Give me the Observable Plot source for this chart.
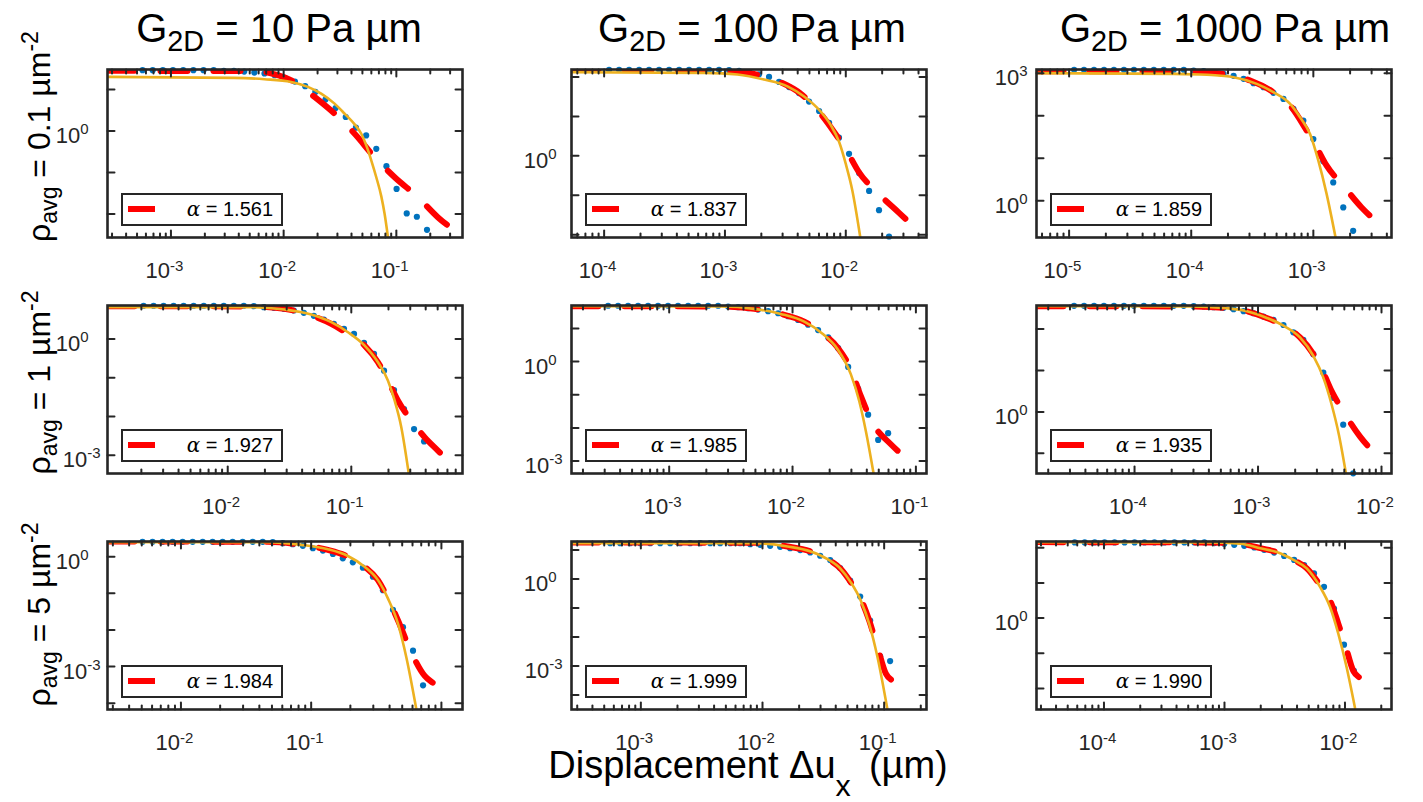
<!DOCTYPE html>
<html>
<head>
<meta charset="utf-8">
<script src="https://cdn.jsdelivr.net/npm/d3@7"></script>
<script src="https://cdn.jsdelivr.net/npm/@observablehq/plot@0.6"></script>
<style>
  html, body { margin: 0; padding: 0; background: #fff; }
  #fig { position: relative; width: 1423px; height: 802px; overflow: hidden; background: #fff;
         font-family: "Liberation Sans", Arial, Helvetica, sans-serif; color: #000; }
  .abs { position: absolute; white-space: nowrap; }
  .title { font-size: 40px; line-height: 40px; transform: translateX(-50%); }
  .rowlab { font-size: 32px; line-height: 32px; width: 400px; text-align: center; transform: rotate(-90deg); }
  .xlab { font-size: 38px; line-height: 24px; transform: translateX(-50%); }
  .sub { font-size: 0.72em; position: relative; top: 0.3em; }
  .sup { font-size: 0.72em; position: relative; top: -0.5em; }
  .subx { font-size: 0.8em; position: relative; top: 0.6em; margin-right: 0.25em; }
  .legend { position: absolute; box-sizing: border-box; border: 2.4px solid #262626; background: #fff; }
  .legend .swatch { position: absolute; left: 5px; top: 11px; width: 27px; height: 6px; background: #ff0000; }
  .legend .txt { position: absolute; right: 8px; top: 2.5px; font-size: 20px; line-height: 23px; }
  .alpha { font-family: "DejaVu Serif", "Liberation Serif", serif; font-style: italic; }
</style>
</head>
<body>
<div id="fig"></div>
<script>
// ---------------- data ----------------
// Panels are ordered row by row: r0c0, r0c1, r0c2, r1c0, ... r2c2
// All positions are log10 values of displacement (µm) and of probability density.
const columnG2D = ["10", "100", "1000"];          // G_2D in Pa µm
const rowDensity = ["0.1", "1", "5"];             // ρ_avg in µm^-2
const alphaValues = ["1.561", "1.837", "1.859", "1.927", "1.985", "1.935", "1.984", "1.999", "1.990"];

const xDomainLog = [[-3.563, -0.413], [-4.270, -1.332], [-5.267, -2.36],
                    [-2.973, -0.1], [-3.792, -0.914], [-4.794, -1.919],
                    [-2.564, 0.162], [-3.570, -0.652], [-4.56, -1.614]];
const yDomainLog = [[-2.565, 1.484], [-2.068, 2.188], [-0.864, 3.086],
                    [-3.474, 0.862], [-3.375, 1.692], [-1.486, 2.567],
                    [-4.174, 0.413], [-4.5, 1.294], [-2.6, 2.18]];
// tick labels (exponents of 10)
const xTickExps = [[-3, -2, -1], [-4, -3, -2], [-5, -4, -3],
                   [-2, -1], [-3, -2, -1], [-4, -3, -2],
                   [-2, -1], [-3, -2, -1], [-4, -3, -2]];
const yTickExps = [[0], [0], [0, 3], [-3, 0], [-3, 0], [0], [-3, 0], [-3, 0], [0]];

// blue dots: measured distribution
const dotLogX = [
  [-3.252,-3.162,-3.072,-2.982,-2.891,-2.801,-2.711,-2.621,-2.531,-2.441,-2.350,-2.260,-2.170,-2.080,-1.990,-1.900,-1.809,-1.719,-1.629,-1.539,-1.449,-1.359,-1.268,-1.178,-1.088,-0.998,-0.908,-0.818,-0.728],
  [-3.959,-3.876,-3.793,-3.710,-3.628,-3.545,-3.462,-3.379,-3.297,-3.214,-3.131,-3.049,-2.966,-2.883,-2.800,-2.718,-2.635,-2.552,-2.469,-2.387,-2.304,-2.221,-2.138,-2.056,-1.973,-1.890,-1.807,-1.725,-1.642],
  [-4.959,-4.878,-4.796,-4.714,-4.633,-4.551,-4.469,-4.388,-4.306,-4.225,-4.143,-4.061,-3.980,-3.898,-3.816,-3.735,-3.653,-3.571,-3.490,-3.408,-3.327,-3.245,-3.163,-3.082,-3.000,-2.918,-2.837,-2.755,-2.674],
  [-2.681,-2.600,-2.519,-2.438,-2.357,-2.276,-2.194,-2.113,-2.032,-1.951,-1.870,-1.789,-1.708,-1.627,-1.546,-1.465,-1.384,-1.303,-1.222,-1.141,-1.059,-0.978,-0.897,-0.816,-0.735,-0.654,-0.573,-0.492,-0.411],
  [-3.495,-3.414,-3.333,-3.252,-3.171,-3.090,-3.009,-2.928,-2.846,-2.765,-2.684,-2.603,-2.522,-2.441,-2.360,-2.279,-2.198,-2.117,-2.036,-1.955,-1.874,-1.793,-1.711,-1.630,-1.549,-1.468,-1.387,-1.306,-1.225],
  [-4.490,-4.409,-4.328,-4.248,-4.167,-4.086,-4.006,-3.925,-3.844,-3.763,-3.683,-3.602,-3.521,-3.440,-3.360,-3.279,-3.198,-3.117,-3.037,-2.956,-2.875,-2.794,-2.714,-2.633,-2.552,-2.471,-2.391,-2.310,-2.229],
  [-2.295,-2.218,-2.141,-2.064,-1.987,-1.910,-1.833,-1.757,-1.680,-1.603,-1.526,-1.449,-1.372,-1.295,-1.218,-1.141,-1.064,-0.987,-0.910,-0.833,-0.757,-0.680,-0.603,-0.526,-0.449,-0.372,-0.295,-0.218,-0.141],
  [-3.252,-3.170,-3.088,-3.005,-2.923,-2.841,-2.759,-2.677,-2.595,-2.512,-2.430,-2.348,-2.266,-2.184,-2.101,-2.019,-1.937,-1.855,-1.773,-1.690,-1.608,-1.526,-1.444,-1.362,-1.279,-1.197,-1.115,-1.033,-0.951],
  [-4.243,-4.160,-4.077,-3.995,-3.912,-3.829,-3.746,-3.664,-3.581,-3.498,-3.415,-3.333,-3.250,-3.167,-3.084,-3.002,-2.919,-2.836,-2.753,-2.671,-2.588,-2.505,-2.422,-2.339,-2.257,-2.174,-2.091,-2.008,-1.926]
];
const dotLogY = [
  [1.468,1.468,1.468,1.468,1.468,1.468,1.468,1.468,1.452,1.452,1.435,1.411,1.387,1.347,1.282,1.194,1.081,0.944,0.758,0.556,0.339,0.081,-0.105,-0.427,-0.847,-1.395,-1.984,-2.065,-2.379],
  [2.180,2.180,2.180,2.180,2.180,2.180,2.180,2.180,2.180,2.180,2.180,2.180,2.171,2.154,2.120,2.068,2.000,1.872,1.744,1.590,1.376,1.137,0.838,0.462,0.051,-0.436,-0.889,-1.376,-2.043],
  [3.080,3.080,3.080,3.080,3.080,3.080,3.080,3.080,3.080,3.080,3.080,3.080,3.063,3.047,3.024,2.984,2.937,2.866,2.764,2.670,2.537,2.395,2.159,1.885,1.452,0.926,0.431,-0.158,-0.708],
  [0.855,0.855,0.855,0.855,0.855,0.855,0.855,0.855,0.855,0.855,0.855,0.845,0.819,0.802,0.776,0.733,0.672,0.595,0.500,0.388,0.259,0.129,-0.103,-0.388,-0.819,-1.319,-1.810,-2.328,-2.647],
  [1.685,1.685,1.685,1.685,1.685,1.685,1.685,1.685,1.685,1.685,1.685,1.685,1.662,1.641,1.611,1.570,1.520,1.459,1.368,1.256,1.114,0.952,0.729,0.405,-0.162,-0.821,-1.601,-2.361,-2.158],
  [2.560,2.560,2.560,2.560,2.560,2.560,2.560,2.560,2.560,2.560,2.560,2.560,2.551,2.543,2.526,2.510,2.478,2.429,2.381,2.300,2.219,2.097,1.919,1.741,1.393,0.947,0.340,-0.308,-1.482],
  [0.405,0.405,0.405,0.405,0.405,0.405,0.405,0.405,0.405,0.405,0.405,0.405,0.405,0.394,0.367,0.339,0.294,0.229,0.165,0.073,-0.046,-0.156,-0.303,-0.550,-0.917,-1.450,-1.927,-2.569,-3.514],
  [1.237,1.237,1.237,1.237,1.237,1.237,1.237,1.237,1.237,1.237,1.237,1.237,1.237,1.237,1.203,1.180,1.145,1.111,1.065,0.997,0.916,0.802,0.653,0.378,-0.057,-0.607,-1.432,-2.669,-2.829],
  [2.153,2.153,2.153,2.153,2.153,2.153,2.153,2.153,2.153,2.153,2.153,2.153,2.153,2.153,2.134,2.115,2.086,2.057,2.010,1.943,1.866,1.770,1.656,1.512,1.273,0.890,0.268,-0.756,-1.502]
];

// red dashed: stable-distribution fit
const fitLogX = [
  [-3.563,-2.259,-2.052,-1.904,-1.726,-1.548,-1.370,-1.193,-1.015,-0.807,-0.630,-0.437],
  [-4.270,-3.172,-2.897,-2.703,-2.538,-2.372,-2.234,-2.097,-1.986,-1.890,-1.738,-1.559,-1.393],
  [-5.267,-3.980,-3.735,-3.517,-3.327,-3.190,-3.054,-2.973,-2.891,-2.755,-2.605,-2.442],
  [-2.973,-1.811,-1.541,-1.324,-1.162,-1.027,-0.892,-0.784,-0.703,-0.622,-0.514,-0.405,-0.297,-0.203],
  [-3.792,-2.581,-2.311,-2.095,-1.905,-1.770,-1.635,-1.527,-1.446,-1.351,-1.203,-1.041],
  [-4.794,-3.548,-3.279,-3.090,-2.929,-2.794,-2.660,-2.552,-2.471,-2.404,-2.310,-2.175,-2.027],
  [-2.564,-1.333,-1.077,-0.872,-0.718,-0.590,-0.487,-0.410,-0.333,-0.231,-0.128,-0.051,0.038],
  [-3.570,-2.068,-1.795,-1.603,-1.466,-1.356,-1.274,-1.192,-1.123,-1.055,-0.986,-0.918,-0.836],
  [-4.56,-3.145,-2.869,-2.703,-2.538,-2.428,-2.317,-2.207,-2.124,-2.055,-2.000,-1.931,-1.862,-1.793]
];
const fitLogY = [
  [1.452,1.444,1.347,1.185,0.823,0.419,-0.065,-0.629,-1.113,-1.597,-2.081,-2.484],
  [2.188,2.179,2.145,2.034,1.863,1.573,1.162,0.607,0.094,-0.419,-0.932,-1.444,-1.915],
  [3.047,3.039,2.984,2.827,2.552,2.238,1.649,1.256,0.824,0.353,-0.158,-0.590],
  [0.845,0.836,0.776,0.603,0.388,0.129,-0.172,-0.603,-1.078,-1.595,-2.112,-2.543,-2.888,-3.190],
  [1.672,1.662,1.591,1.439,1.206,0.881,0.426,-0.233,-1.044,-1.854,-2.492,-3.019],
  [2.551,2.543,2.510,2.429,2.267,2.081,1.798,1.393,0.947,0.502,0.016,-0.591,-1.077],
  [0.413,0.404,0.321,0.183,0.000,-0.275,-0.642,-1.147,-1.743,-2.615,-3.257,-3.486,-3.780],
  [1.260,1.249,1.123,0.951,0.687,0.344,-0.115,-0.687,-1.432,-2.348,-3.265,-3.551,-3.860],
  [2.163,2.153,2.115,1.990,1.847,1.656,1.416,0.938,0.507,-0.163,-0.737,-1.502,-1.742,-1.981]
];

// orange solid: Gaussian
const gaussLogX = [
  [-3.563,-2.437,-2.170,-1.933,-1.785,-1.667,-1.548,-1.459,-1.370,-1.311,-1.261,-1.222,-1.178,-1.133,-1.104,-1.074],
  [-4.270,-3.172,-2.897,-2.676,-2.483,-2.345,-2.207,-2.124,-2.055,-2.000,-1.945,-1.881],
  [-5.267,-4.143,-3.871,-3.653,-3.463,-3.327,-3.190,-3.109,-3.027,-2.959,-2.891,-2.818],
  [-2.973,-1.811,-1.541,-1.324,-1.162,-1.027,-0.892,-0.784,-0.703,-0.649,-0.595,-0.535],
  [-3.792,-2.581,-2.311,-2.095,-1.905,-1.770,-1.635,-1.527,-1.459,-1.405,-1.343],
  [-4.794,-3.548,-3.279,-3.090,-2.929,-2.794,-2.660,-2.552,-2.471,-2.404,-2.345,-2.288],
  [-2.564,-1.333,-1.077,-0.872,-0.718,-0.590,-0.487,-0.410,-0.333,-0.269,-0.192],
  [-3.570,-2.068,-1.795,-1.603,-1.466,-1.356,-1.274,-1.192,-1.123,-1.055,-0.973],
  [-4.56,-3.145,-2.869,-2.703,-2.538,-2.428,-2.317,-2.207,-2.124,-2.055,-1.986,-1.917]
];
const gaussLogY = [
  [1.306,1.282,1.250,1.185,1.065,0.903,0.661,0.419,0.161,-0.065,-0.387,-0.710,-1.113,-1.580,-2.000,-2.565],
  [2.120,2.103,2.060,1.932,1.761,1.504,1.120,0.778,0.350,-0.205,-0.889,-2.043],
  [3.000,2.984,2.961,2.906,2.749,2.552,2.277,1.963,1.570,0.942,0.156,-0.865],
  [0.819,0.819,0.759,0.629,0.431,0.172,-0.172,-0.603,-1.078,-1.595,-2.284,-3.474],
  [1.672,1.662,1.591,1.439,1.206,0.881,0.375,-0.385,-1.196,-2.107,-3.374],
  [2.551,2.543,2.510,2.429,2.267,2.081,1.798,1.352,0.826,0.178,-0.551,-1.482],
  [0.394,0.394,0.321,0.202,0.018,-0.275,-0.642,-1.147,-1.835,-2.752,-4.174],
  [1.237,1.237,1.123,0.951,0.687,0.344,-0.115,-0.745,-1.546,-2.692,-4.502],
  [2.163,2.153,2.115,1.990,1.847,1.656,1.416,0.890,0.316,-0.450,-1.407,-2.555]
];

// ---------------- layout ----------------
const fig = document.getElementById("fig");
const FW = 355, FH = 168;                 // frame size of each axes
const colLeft = [107, 571, 1036];
const rowTop = [69, 305, 541];
const ML = 80, MR = 15, MT = 15, MB = 55;
const ink = "#262626";
const P = v => Math.pow(10, v);
const tickShape = {draw(context, l) { context.moveTo(0, 0); context.lineTo(0, -l); }};
const isDecade = t => Math.abs(Math.log10(t) - Math.round(Math.log10(t))) < 1e-6;
// y tick label gaps from frame (right edge of label), per column
const yGap1 = [19, 15, 9], yGap2 = [7, 9, 9];

function tickMarks(data, ch, frameAnchor, rotate, length) {
  const fn = ch === "x" ? Plot.vectorX : Plot.vectorY;
  return fn(data, {[ch]: d => d, frameAnchor, rotate, length, anchor: "start",
                   shape: tickShape, stroke: ink, strokeWidth: 2});
}

for (let i = 0; i < 9; i++) {
  const r = Math.floor(i / 3), c = i % 3;
  const dots = dotLogX[i].map((v, j) => ({x: P(v), y: P(dotLogY[i][j])}));
  const fit = fitLogX[i].map((v, j) => ({x: P(v), y: P(fitLogY[i][j])}));
  const gauss = gaussLogX[i].map((v, j) => ({x: P(v), y: P(gaussLogY[i][j])}));
  const xd = xDomainLog[i].map(P), yd = yDomainLog[i].map(P);
  const xAll = d3.scaleLog().domain(xd).ticks();
  const xMinor = xAll.filter(t => !isDecade(t));
  const xMajor = xAll.filter(isDecade);
  const yMajor = d3.range(Math.ceil(yDomainLog[i][0]), Math.floor(yDomainLog[i][1]) + 1).map(P);

  const yLabelMarks = yTickExps[i].flatMap(e => {
    const s = String(e);
    const gap = s.length > 1 ? yGap2[c] : yGap1[c];
    const ew = s.length > 1 ? 13.3 : 8.3;
    const ax = -(gap + ew);
    return [
      Plot.text([e], {y: d => P(d), text: () => "10", frameAnchor: "left", lineAnchor: "bottom",
                      textAnchor: "end", dx: ax, dy: 12, fontSize: 22, fill: ink}),
      Plot.text([e], {y: d => P(d), text: d => String(d), frameAnchor: "left", lineAnchor: "bottom",
                      textAnchor: "start", dx: ax, dy: 3, fontSize: 15, fill: ink})
    ];
  });

  const chart = Plot.plot({
    width: FW + ML + MR, height: FH + MT + MB,
    marginLeft: ML, marginRight: MR, marginTop: MT, marginBottom: MB,
    x: {type: "log", domain: xd, axis: null},
    y: {type: "log", domain: yd, axis: null},
    style: {background: "transparent", overflow: "visible", fontFamily: "Liberation Sans, Arial, sans-serif"},
    marks: [
      Plot.dot(dots, {x: "x", y: "y", r: 3.1, fill: "#0072BD", stroke: "none"}),
      Plot.line(fit, {x: "x", y: "y", stroke: "#FF0000", strokeWidth: 6, strokeDasharray: "27 26",
                      curve: "monotone-x", clip: true}),
      Plot.line(gauss, {x: "x", y: "y", stroke: "#EDB120", strokeWidth: 2.6, curve: "monotone-x", clip: true}),
      Plot.frame({stroke: ink, strokeWidth: 2.6}),
      tickMarks(xMinor, "x", "bottom", 0, 4),
      tickMarks(xMinor, "x", "top", 180, 4),
      tickMarks(xMajor, "x", "bottom", 0, 7),
      tickMarks(xMajor, "x", "top", 180, 7),
      tickMarks(yMajor, "y", "left", 90, 7),
      tickMarks(yMajor, "y", "right", -90, 7),
      Plot.text(xTickExps[i], {x: d => P(d), text: () => "10", frameAnchor: "bottom", lineAnchor: "bottom",
                               textAnchor: "end", dx: -1, dy: 40, fontSize: 22, fill: ink}),
      Plot.text(xTickExps[i], {x: d => P(d), text: d => String(d), frameAnchor: "bottom", lineAnchor: "bottom",
                               textAnchor: "start", dx: -1, dy: 33, fontSize: 15, fill: ink}),
      ...yLabelMarks
    ]
  });
  chart.style.position = "absolute";
  chart.style.left = (colLeft[c] - ML) + "px";
  chart.style.top = (rowTop[r] - MT) + "px";
  chart.style.maxWidth = "none";
  fig.appendChild(chart);

  // legend box (inside the axes, lower left)
  const lg = document.createElement("div");
  lg.className = "legend";
  lg.style.left = (colLeft[c] + 14) + "px";
  lg.style.top = (rowTop[r] + FH - 11 - 33) + "px";
  lg.style.width = "162px";
  lg.style.height = "33px";
  lg.innerHTML = `<div class="swatch"></div><div class="txt"><span class="alpha">α</span> = ${alphaValues[i]}</div>`;
  fig.appendChild(lg);
}

// column titles
const titleCenters = [279, 752, 1225];
columnG2D.forEach((g, c) => {
  const d = document.createElement("div");
  d.className = "abs title";
  d.style.left = titleCenters[c] + "px";
  d.style.top = "8px";
  d.innerHTML = `G<span class="sub">2D</span> = ${g} Pa µm`;
  fig.appendChild(d);
});

// row labels
const rowCenters = [135, 381, 613];
rowDensity.forEach((v, r) => {
  const d = document.createElement("div");
  d.className = "abs rowlab";
  d.style.left = (40 - 200) + "px";
  d.style.top = (rowCenters[r] - 16) + "px";
  d.innerHTML = `ρ<span class="sub">avg</span> = ${v} µm<span class="sup">-2</span>`;
  fig.appendChild(d);
});

// shared x label
const xl = document.createElement("div");
xl.className = "abs xlab";
xl.style.left = "748px";
xl.style.top = "753px";
xl.innerHTML = `Displacement Δu<span class="subx">x</span> (µm)`;
fig.appendChild(xl);
</script>
</body>
</html>
